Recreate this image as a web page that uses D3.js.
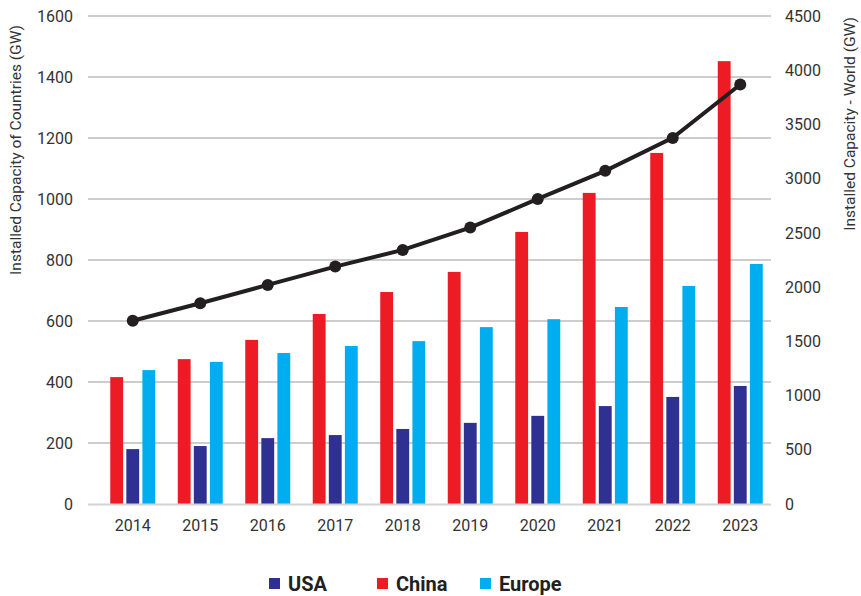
<!DOCTYPE html>
<html>
<head>
<meta charset="utf-8">
<script src="https://cdn.jsdelivr.net/npm/d3@7"></script>
<style>
  body { margin: 0; background: #fff; }
  #chart { width: 861px; height: 596px; }
  svg text { font-family: Roboto, "Noto Sans", sans-serif; }
</style>
</head>
<body>
<div id="chart"></div>
<script>
(function () {
  'use strict';

  const years = ['2014', '2015', '2016', '2017', '2018', '2019', '2020', '2021', '2022', '2023'];
  const china = [416, 475, 538, 623, 695, 761, 892, 1020, 1151, 1452];
  const usa = [180, 190, 216, 226, 246, 266, 289, 321, 351, 387];
  const europe = [439, 466, 495, 518, 534, 580, 606, 646, 715, 787];
  const world = [1690, 1851, 2020, 2189, 2343, 2549, 2813, 3072, 3376, 3868];

  const leftTicks = [0, 200, 400, 600, 800, 1000, 1200, 1400, 1600];
  const rightTicks = [0, 500, 1000, 1500, 2000, 2500, 3000, 3500, 4000, 4500];

  const seriesNames = ['China', 'USA', 'Europe'];
  const seriesValues = { China: china, USA: usa, Europe: europe };
  const colors = { USA: '#2e3192', China: '#ed1c24', Europe: '#00aeef' };
  const legendOrder = ['USA', 'China', 'Europe'];

  const W = 861, H = 596;
  const plot = { left: 88, right: 771, top: 16, bottom: 504 };

  const svg = d3.select('#chart').append('svg')
    .attr('width', W).attr('height', H);

  const x0 = d3.scaleBand().domain(years).range([99, 774]);
  const x1 = d3.scaleBand().domain(seriesNames).range([-22.5, 22.5]).paddingInner(0.2);
  const yL = d3.scaleLinear().domain([0, 1600]).range([plot.bottom, plot.top]);
  const yR = d3.scaleLinear().domain([0, 4500]).range([plot.bottom, plot.top]);

  // grid lines
  svg.append('g')
    .selectAll('line')
    .data(leftTicks.filter((d) => d > 0))
    .enter().append('line')
    .attr('x1', plot.left).attr('x2', plot.right)
    .attr('y1', (d) => yL(d)).attr('y2', (d) => yL(d))
    .attr('stroke', '#bcbcbc').attr('stroke-width', 1.3);

  // bars
  const groups = svg.append('g').selectAll('g')
    .data(years)
    .enter().append('g')
    .attr('transform', (d) => `translate(${x0(d) + x0.bandwidth() / 2},0)`);

  groups.selectAll('rect')
    .data((d, i) => seriesNames.map((s) => ({ s, v: seriesValues[s][i] })))
    .enter().append('rect')
    .attr('x', (d) => x1(d.s))
    .attr('width', x1.bandwidth())
    .attr('y', (d) => yL(d.v))
    .attr('height', (d) => yL(0) - yL(d.v))
    .attr('fill', (d) => colors[d.s]);

  // baseline
  svg.append('line')
    .attr('x1', plot.left).attr('x2', plot.right)
    .attr('y1', yL(0) + 0.5).attr('y2', yL(0) + 0.5)
    .attr('stroke', '#d4d4d4').attr('stroke-width', 2);

  // world line
  const line = d3.line()
    .x((d, i) => x0(years[i]) + x0.bandwidth() / 2)
    .y((d) => yR(d));

  svg.append('path')
    .datum(world)
    .attr('fill', 'none')
    .attr('stroke', '#231f20')
    .attr('stroke-width', 4)
    .attr('d', line);

  svg.append('g').selectAll('circle')
    .data(world)
    .enter().append('circle')
    .attr('cx', (d, i) => x0(years[i]) + x0.bandwidth() / 2)
    .attr('cy', (d) => yR(d))
    .attr('r', 6)
    .attr('fill', '#231f20');

  // left axis
  const axL = svg.append('g')
    .attr('transform', `translate(${plot.left},0)`)
    .call(d3.axisLeft(yL).tickValues(leftTicks).tickFormat(d3.format('d')).tickSize(0).tickPadding(15));
  axL.select('.domain').remove();
  axL.selectAll('text').attr('fill', '#333').style('font-size', '16px');

  // right axis
  const axR = svg.append('g')
    .attr('transform', `translate(${plot.right},0)`)
    .call(d3.axisRight(yR).tickValues(rightTicks).tickFormat(d3.format('d')).tickSize(0).tickPadding(14));
  axR.select('.domain').remove();
  axR.selectAll('text').attr('fill', '#333').style('font-size', '16px');

  // bottom axis
  const axB = svg.append('g')
    .attr('transform', `translate(0,${plot.bottom})`)
    .call(d3.axisBottom(x0).tickSize(0).tickPadding(16));
  axB.select('.domain').remove();
  axB.selectAll('text').attr('fill', '#333').style('font-size', '16px');

  // axis titles
  svg.append('text')
    .attr('transform', 'translate(21,150) rotate(-90)')
    .attr('text-anchor', 'middle')
    .attr('fill', '#333')
    .style('font-size', '15.5px')
    .text('Installed Capacity of Countries (GW)');

  svg.append('text')
    .attr('transform', 'translate(855,124) rotate(-90)')
    .attr('text-anchor', 'middle')
    .attr('fill', '#333')
    .style('font-size', '15.5px')
    .text('Installed Capacity - World (GW)');

  // legend
  const legendX = { USA: 269, China: 377, Europe: 480 };
  const lg = svg.append('g').selectAll('g')
    .data(legendOrder)
    .enter().append('g')
    .attr('transform', (d) => `translate(${legendX[d]},583)`);

  lg.append('rect')
    .attr('x', 0).attr('y', -5)
    .attr('width', 11).attr('height', 11)
    .attr('fill', (d) => colors[d]);

  lg.append('text')
    .attr('x', 19).attr('y', 1)
    .attr('dy', '0.36em')
    .attr('fill', '#231f20')
    .style('font-size', '20px')
    .style('font-weight', 'bold')
    .text((d) => d);
})();
</script>
</body>
</html>
